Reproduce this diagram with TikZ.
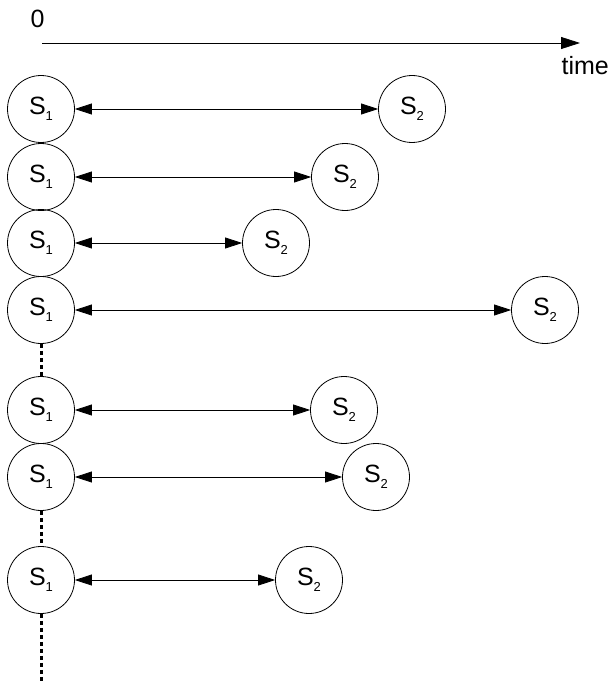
\documentclass[tikz,border=0pt]{standalone}
\usepackage{fontspec}
\setmainfont{Liberation Sans}
\usetikzlibrary{arrows.meta}
% state label: capital letter with a low, small index
\newcommand{\stname}[2]{#1\raisebox{-6.5pt}{\fontsize{13}{14}\selectfont #2}}
\begin{document}
\begin{tikzpicture}[x=1pt,y=-1pt,
  state/.style={draw, circle, line width=0.8pt, minimum size=67pt, inner sep=0pt, font=\fontsize{25}{27}\selectfont},
  link/.style={line width=0.8pt, {Triangle[length=17pt,width=11pt]}-{Triangle[length=17pt,width=11pt]}},
  axis/.style={line width=0.8pt, -{Triangle[length=19pt,width=12pt]}},
  gap/.style={line width=3pt, dash pattern=on 4pt off 3pt},
  lbl/.style={font=\fontsize{25}{27}\selectfont, inner sep=0pt}]
\useasboundingbox (0,0) rectangle (615,682);

% time axis
\coordinate (t0) at (42,43);
\coordinate (t1) at (580,43);
\draw[axis] (t0) -- (t1);
\node[lbl, anchor=base] (zero) at (37.5,28) {0};
\node[lbl, anchor=base east] (time) at (609,75) {time};

% S1 column and S2 partners
\foreach \i/\ya/\xb in {1/109/412, 2/177/345, 3/243/276, 4/310/545, 5/410/344, 6/477/376, 7/580/309} {
  \node[state] (a\i) at (41,\ya) {\stname{S}{1}};
  \node[state] (b\i) at (\xb,\ya) {\stname{S}{2}};
  \draw[link] (a\i) -- (b\i);
}

% omitted rows
\coordinate (tail) at (41,682);
\draw[gap] (a4) -- (a5);
\draw[gap] (a6) -- (a7);
\draw[gap] (a7) -- (tail);
\end{tikzpicture}
\end{document}
